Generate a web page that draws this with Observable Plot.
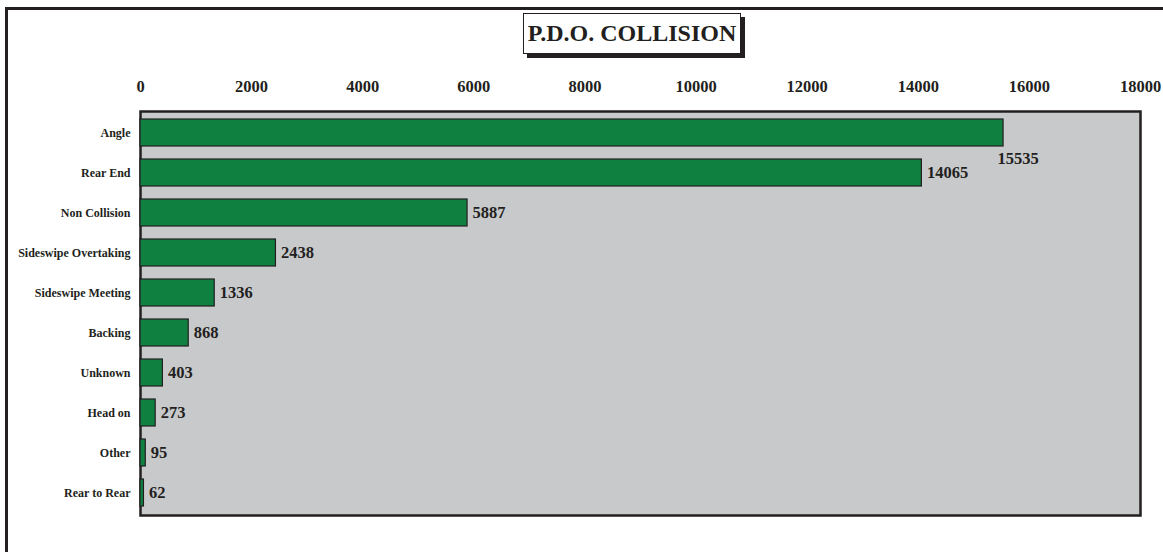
<!DOCTYPE html>
<html>
<head>
<meta charset="utf-8">
<script src="https://cdn.jsdelivr.net/npm/d3@7"></script>
<script src="https://cdn.jsdelivr.net/npm/@observablehq/plot@0.6"></script>
<style>
  html, body { margin: 0; padding: 0; background: #fff; overflow: hidden; }
  #wrap { position: relative; width: 1163px; height: 552px; overflow: hidden; }
  #frame { position: absolute; left: 5px; top: 7px; width: 1300px; height: 700px;
           border: 3px solid #231f20; box-sizing: border-box; }
  #title { position: absolute; left: 523px; top: 13px; width: 218px; height: 41px;
           box-sizing: border-box; border: 1px solid #231f20; background: #fff;
           box-shadow: 4px 4px 0 #231f20;
           font-family: "Liberation Serif", "Times New Roman", serif; font-weight: bold;
           font-size: 24px; color: #231f20; text-align: center; line-height: 39px; }
  #chart { position: absolute; left: 0; top: 0; }
</style>
</head>
<body>
<div id="wrap">
  <div id="frame"></div>
  <div id="chart"></div>
  <div id="title">P.D.O. COLLISION</div>
</div>
<script>
const categories = ["Angle", "Rear End", "Non Collision", "Sideswipe Overtaking", "Sideswipe Meeting",
                    "Backing", "Unknown", "Head on", "Other", "Rear to Rear"];
const values = [15535, 14065, 5887, 2438, 1336, 868, 403, 273, 95, 62];
const xTicks = [0, 2000, 4000, 6000, 8000, 10000, 12000, 14000, 16000, 18000];

const data = categories.map((c, i) => ({category: c, value: values[i]}));
const ink = "#231f20";

const chart = Plot.plot({
  width: 1163,
  height: 552,
  marginLeft: 140,
  marginRight: 23,
  marginTop: 111,
  marginBottom: 37,
  style: {fontFamily: "'Liberation Serif', 'Times New Roman', serif", fontWeight: "bold", color: ink, background: "transparent"},
  x: {domain: [0, 18000], label: null},
  y: {domain: categories, paddingInner: 0.32, paddingOuter: 0.16, label: null},
  marks: [
    Plot.frame({fill: "#c8c9cb", stroke: ink, strokeWidth: 2.5}),
    Plot.barX(data, {y: "category", x: "value", fill: "#108040", stroke: ink, strokeWidth: 1.2}),
    Plot.text(data.filter(d => d.category !== "Angle"), {
      y: "category", x: "value", text: d => String(d.value),
      textAnchor: "start", dx: 5, fontSize: 16.5, fontWeight: "bold", fill: ink
    }),
    Plot.text(data.filter(d => d.category === "Angle"), {
      y: "category", x: "value", text: d => String(d.value),
      textAnchor: "start", dx: -6, dy: 26, fontSize: 16.5, fontWeight: "bold", fill: ink
    }),
    Plot.axisX({anchor: "top", ticks: xTicks, tickSize: 0, tickPadding: 20, tickFormat: d => String(d),
                fontSize: 16.5, fontWeight: "bold", fill: ink, label: null}),
    Plot.axisY({anchor: "left", tickSize: 0, tickPadding: 10, fontSize: 12, fontWeight: "bold", fill: ink, label: null})
  ]
});
document.getElementById("chart").appendChild(chart);
</script>
</body>
</html>
